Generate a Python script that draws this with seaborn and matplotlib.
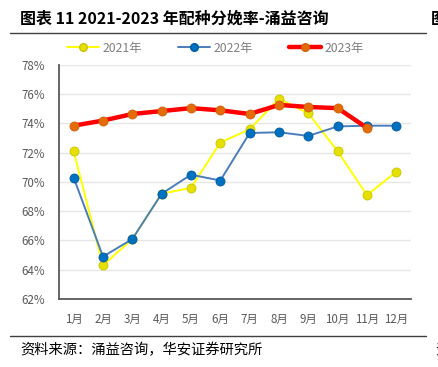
import pandas as pd
import seaborn as sns
import matplotlib.pyplot as plt
from matplotlib.lines import Line2D

# Data (配种分娩率, %)
months = ['1月', '2月', '3月', '4月', '5月', '6月', '7月', '8月', '9月', '10月', '11月', '12月']
rate_2021 = [72.1, 64.3, 66.1, 69.2, 69.6, 72.7, 73.6, 75.7, 74.7, 72.1, 69.1, 70.7]
rate_2022 = [70.3, 64.9, 66.1, 69.2, 70.5, 70.1, 73.35, 73.4, 73.15, 73.8, 73.85, 73.85]
rate_2023 = [73.85, 74.2, 74.65, 74.85, 75.05, 74.9, 74.65, 75.27, 75.13, 75.05, 73.7]
years = ['2021年', '2022年', '2023年']

sns.set_theme(style='white')
plt.rcParams['font.family'] = ['Noto Sans CJK SC', 'DejaVu Sans']

# build a long table for seaborn
rows = []
for yr, vals in zip(years, [rate_2021, rate_2022, rate_2023]):
    for i, v in enumerate(vals):
        rows.append({'year': yr, 'month': i, 'rate': v})
df = pd.DataFrame(rows)

styles = {
    '2021年': dict(color='#FFFF00', lw=1.4, mfc='#E6E000', mec='#C8C400', ms=6.5, z=3),
    '2022年': dict(color='#4A7EBB', lw=1.4, mfc='#0070C0', mec='#005A9E', ms=6.5, z=4),
    '2023年': dict(color='#FF0000', lw=3.2, mfc='#E36C09', mec='#D06008', ms=6.5, z=5),
}

fig = plt.figure(figsize=(4.39, 3.67), dpi=100)
ax = fig.add_axes([0.1344, 0.1853, 0.8018, 0.6376])

for yr in years:
    s = styles[yr]
    sns.lineplot(data=df[df['year'] == yr], x='month', y='rate', ax=ax,
                 color=s['color'], linewidth=s['lw'], marker='o',
                 markersize=s['ms'], markerfacecolor=s['mfc'],
                 markeredgecolor=s['mec'], markeredgewidth=0.6,
                 zorder=s['z'], legend=False)

ax.set_ylim(62, 78)
ax.set_xlim(-0.5, 11.5)
ax.set_yticks(range(62, 79, 2))
ax.set_yticklabels([f'{v}%' for v in range(62, 79, 2)])
ax.set_xticks(range(12))
ax.set_xticklabels(months)
ax.set_xlabel('')
ax.set_ylabel('')
ax.tick_params(axis='both', colors='#595959', labelsize=8.3, length=0)
ax.tick_params(axis='x', pad=10)
ax.tick_params(axis='y', pad=10)
ax.grid(axis='y', color='#E6E6E6', linewidth=1)
ax.set_axisbelow(True)
for side in ['top', 'right']:
    ax.spines[side].set_visible(False)
for side in ['left', 'bottom']:
    ax.spines[side].set_color('#595959')
    ax.spines[side].set_linewidth(1.3)

# legend
handles = []
for yr in years:
    s = styles[yr]
    handles.append(Line2D([], [], color=s['color'], lw=s['lw'], marker='o',
                          ms=5.5, mfc=s['mfc'], mec=s['mec']))
leg = fig.legend(handles, years, loc='center', bbox_to_anchor=(0.491, 0.869),
                 ncol=3, frameon=False, fontsize=8.8, handlelength=2.6,
                 columnspacing=2.9, handletextpad=0.35)
for t in leg.get_texts():
    t.set_color('#7F7F7F')

# title, separators, source
fig.text(0.046, 0.948, '图表 11 2021-2023 年配种分娩率-涌益咨询', fontsize=11.5,
         fontweight='bold', va='center', ha='left', color='#000000')
fig.add_artist(Line2D([0.023, 0.97], [0.910, 0.910], color='#404040', lw=1.0))
fig.add_artist(Line2D([0.023, 0.97], [0.084, 0.084], color='#404040', lw=1.0))
fig.text(0.046, 0.046, '资料来源：涌益咨询，华安证券研究所', fontsize=10.3,
         va='center', ha='left', color='#000000')
# cut-off text from the neighbouring panel
fig.text(0.982, 0.948, '图', fontsize=11.5, fontweight='bold', va='center',
         ha='left', color='#000000')
fig.text(0.991, 0.046, '资', fontsize=10, va='center', ha='left', color='#000000')

fig.savefig('out.png', dpi=100)
